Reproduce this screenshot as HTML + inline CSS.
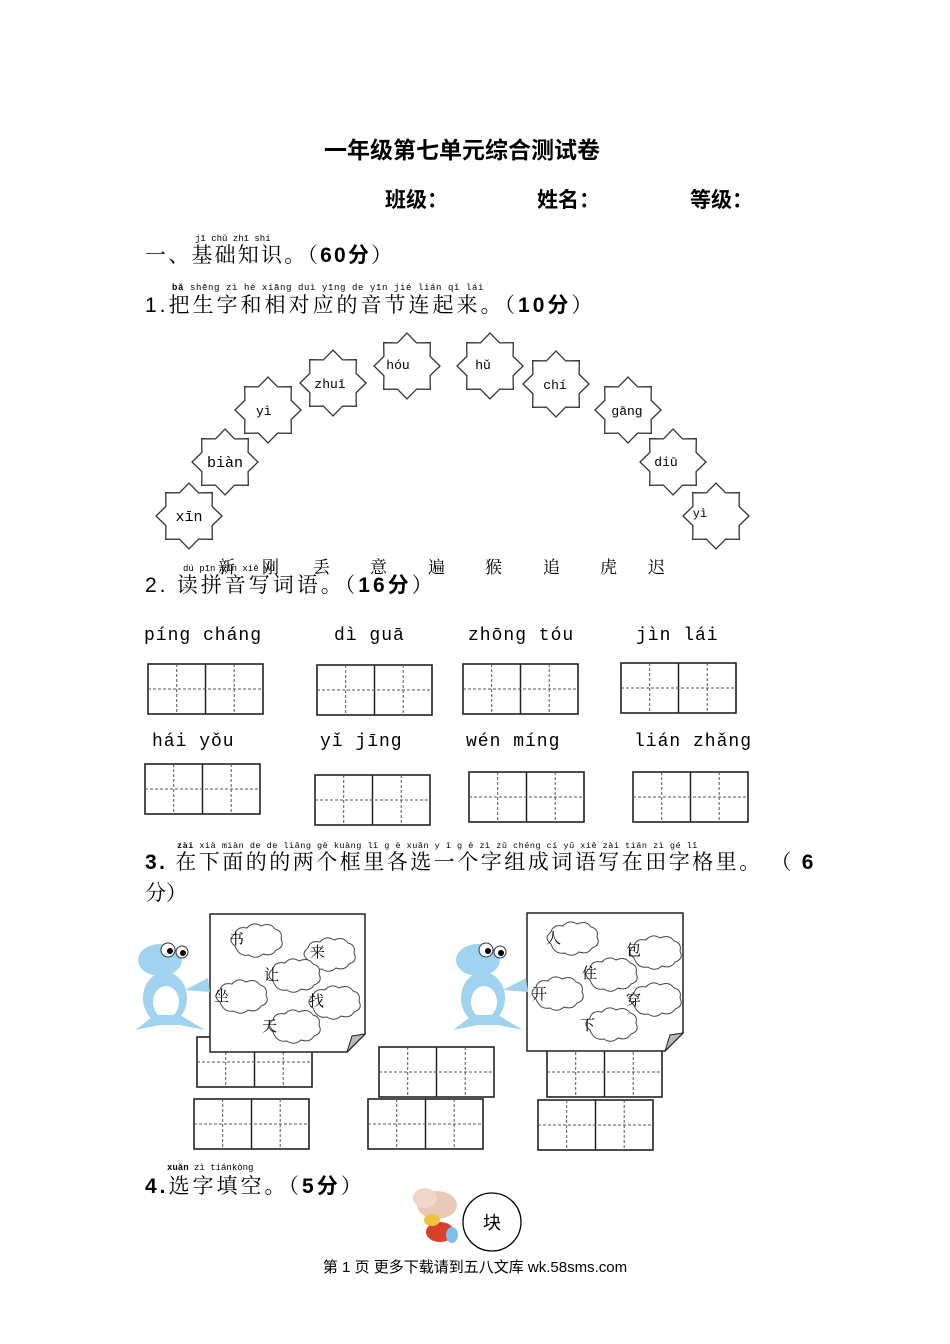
<!DOCTYPE html>
<html><head><meta charset="utf-8"><style>
html,body{margin:0;padding:0;background:#fff;}
svg{display:block;}
text{font-family:"Liberation Serif","Noto Serif CJK SC",serif;fill:#000;}
.h{font-family:"Liberation Sans","Noto Sans CJK SC",sans-serif;}
.py{font-family:"Liberation Mono","DejaVu Sans Mono",monospace;font-size:9px;}
.pw{font-family:"Liberation Mono","DejaVu Sans Mono",monospace;font-size:18px;}
</style></head><body>
<svg width="950" height="1344" viewBox="0 0 950 1344" xmlns="http://www.w3.org/2000/svg">
<defs>
<polygon id="st" fill="#fff" stroke="#333" stroke-width="1.3" points="33,0 23.1,9.6 23.3,23.3 9.6,23.1 0,33 -9.6,23.1 -23.3,23.3 -23.1,9.6 -33,0 -23.1,-9.6 -23.3,-23.3 -9.6,-23.1 0,-33 9.6,-23.1 23.3,-23.3 23.1,-9.6"/>
<g id="tg">
<rect x="0" y="0" width="115" height="50" fill="#fff" stroke="#222" stroke-width="1.6"/>
<line x1="57.5" y1="0" x2="57.5" y2="50" stroke="#222" stroke-width="1.5"/>
<line x1="0" y1="25" x2="115" y2="25" stroke="#555" stroke-dasharray="3,2" stroke-width="1"/>
<line x1="28.7" y1="0" x2="28.7" y2="50" stroke="#555" stroke-dasharray="3,2" stroke-width="1"/>
<line x1="86.2" y1="0" x2="86.2" y2="50" stroke="#555" stroke-dasharray="3,2" stroke-width="1"/>
</g>
<path id="cl" fill="#fff" stroke="#444" stroke-width="1" d="M-22,5 q-8,-6 0,-12 q2,-8 12,-6 q6,-7 14,-2 q9,-4 14,3 q8,2 6,10 q4,8 -5,11 q-4,7 -13,4 q-7,6 -14,1 q-10,2 -14,-9z"/>
<g id="frog">
<ellipse cx="30" cy="40" rx="22" ry="16" fill="#9fd3ef"/>
<ellipse cx="35" cy="78" rx="22" ry="26" fill="#9fd3ef"/>
<ellipse cx="36" cy="82" rx="13" ry="16" fill="#fff"/>
<path d="M5,110 L25,95 L50,95 L75,110 L50,105 L30,105z" fill="#9fd3ef"/>
<path d="M55,70 L78,58 L80,72z" fill="#9fd3ef"/>
<circle cx="38" cy="30" r="7" fill="#fff" stroke="#333"/><circle cx="52" cy="32" r="6" fill="#fff" stroke="#333"/>
<circle cx="40" cy="31" r="3" fill="#000"/><circle cx="53" cy="33" r="3" fill="#000"/>
</g>
</defs>

<text x="462" y="158" text-anchor="middle" font-size="23" font-weight="bold" class="h">一年级第七单元综合测试卷</text>
<text x="385" y="207" font-size="21" font-weight="bold" class="h">班级：</text>
<text x="537" y="207" font-size="21" font-weight="bold" class="h">姓名：</text>
<text x="690" y="207" font-size="21" font-weight="bold" class="h">等级：</text>

<text x="195" y="241" class="py">jī chǔ zhī shí</text>
<text x="145" y="262" font-size="21" letter-spacing="2.2">一、基础知识。（<tspan class="h" font-weight="bold">60分</tspan>）</text>
<text x="172" y="290" class="py" letter-spacing="0.6"><tspan font-weight="bold">bǎ</tspan> shēng zì  hé xiāng duì yīng de  yīn jié lián qǐ  lái</text>
<text x="145" y="312" font-size="21" letter-spacing="3"><tspan class="h">1.</tspan>把生字和相对应的音节连起来。（<tspan class="h" font-weight="bold">10分</tspan>）</text>

<use href="#st" transform="translate(189,516)"/><text x="189" y="521" text-anchor="middle" class="pw" style="font-size:15px">xīn</text>
<use href="#st" transform="translate(225,462)"/><text x="225" y="467" text-anchor="middle" class="pw" style="font-size:15px">biàn</text>
<use href="#st" transform="translate(268,410)"/><text x="256" y="415" class="pw" style="font-size:13px">yì</text>
<use href="#st" transform="translate(333,383)"/><text x="330" y="388" text-anchor="middle" class="pw" style="font-size:13px">zhuī</text>
<use href="#st" transform="translate(407,366)"/><text x="398" y="369" text-anchor="middle" class="pw" style="font-size:13px">hóu</text>
<use href="#st" transform="translate(490,366)"/><text x="483" y="369" text-anchor="middle" class="pw" style="font-size:13px">hǔ</text>
<use href="#st" transform="translate(556,384)"/><text x="555" y="389" text-anchor="middle" class="pw" style="font-size:13px">chí</text>
<use href="#st" transform="translate(628,410)"/><text x="627" y="415" text-anchor="middle" class="pw" style="font-size:13px">gāng</text>
<use href="#st" transform="translate(673,462)"/><text x="666" y="466" text-anchor="middle" class="pw" style="font-size:13px">diū</text>
<use href="#st" transform="translate(716,516)"/><text x="700" y="517" text-anchor="middle" class="pw" style="font-size:12px">yì</text>

<g font-size="17">
<text x="218" y="573">新</text><text x="262" y="573">刚</text><text x="313" y="573">丢</text><text x="370" y="573">意</text><text x="428" y="573">遍</text><text x="485" y="573">猴</text><text x="543" y="573">追</text><text x="600" y="573">虎</text><text x="648" y="573">迟</text>
</g>
<text x="183" y="571" class="py">dú pīn yīn xiě   yǔ</text>
<text x="145" y="592" font-size="21" letter-spacing="3"><tspan class="h">2.</tspan> 读拼音写词语。（<tspan class="h" font-weight="bold">16分</tspan>）</text>

<g>
<text x="144" y="640" class="pw" letter-spacing="1">píng  cháng</text>
<text x="334" y="640" class="pw" letter-spacing="1">dì guā</text>
<text x="468" y="640" class="pw" letter-spacing="1">zhōng  tóu</text>
<text x="636" y="640" class="pw" letter-spacing="1">jìn  lái</text>
<text x="152" y="746" class="pw" letter-spacing="1">hái  yǒu</text>
<text x="320" y="746" class="pw" letter-spacing="1">yǐ jīng</text>
<text x="466" y="746" class="pw" letter-spacing="1">wén míng</text>
<text x="634" y="746" class="pw" letter-spacing="1">lián zhǎng</text>
</g>
<use href="#tg" x="148" y="664"/><use href="#tg" x="317" y="665"/><use href="#tg" x="463" y="664"/><use href="#tg" x="621" y="663"/>
<use href="#tg" x="145" y="764"/><use href="#tg" x="315" y="775"/><use href="#tg" x="469" y="772"/><use href="#tg" x="633" y="772"/>

<text x="177" y="848" class="py" style="font-size:8.5px" letter-spacing="0.5"><tspan font-weight="bold">zài</tspan> xià miàn de  de liǎng gè kuàng lǐ  g è xuǎn y ī g è  zì  zǔ chéng cí  yǔ  xiě zài tián zì  gé  lǐ</text>
<text x="145" y="869" font-size="21" letter-spacing="2.5"><tspan class="h" font-weight="bold">3.</tspan> 在下面的的两个框里各选一个字组成词语写在田字格里。 （ <tspan class="h" font-weight="bold">6</tspan></text>
<text x="145" y="900" font-size="21">分）</text>

<use href="#tg" x="197" y="1037"/><use href="#tg" x="379" y="1047"/><use href="#tg" x="547" y="1047"/>
<use href="#tg" x="194" y="1099"/><use href="#tg" x="368" y="1099"/><use href="#tg" x="538" y="1100"/>

<path d="M210,914 L365,914 L365,1034 L347,1052 L210,1052z" fill="#fff" stroke="#222" stroke-width="1.5"/>
<path d="M347,1052 L352,1036 L365,1034z" fill="#bbb" stroke="#222"/>
<path d="M527,913 L683,913 L683,1033 L665,1051 L527,1051z" fill="#fff" stroke="#222" stroke-width="1.5"/>
<path d="M665,1051 L670,1035 L683,1033z" fill="#bbb" stroke="#222"/>
<use href="#cl" transform="translate(257,941)"/><use href="#cl" transform="translate(330,955)"/><use href="#cl" transform="translate(295,976)"/>
<use href="#cl" transform="translate(242,997)"/><use href="#cl" transform="translate(335,1003)"/><use href="#cl" transform="translate(295,1027)"/>
<g font-size="15">
<text x="229" y="944">书</text><text x="310" y="957">来</text><text x="264" y="980">让</text><text x="214" y="1001">坐</text><text x="309" y="1006">找</text><text x="262" y="1031">天</text>
</g>
<use href="#cl" transform="translate(573,939)"/><use href="#cl" transform="translate(656,953)"/><use href="#cl" transform="translate(612,975)"/>
<use href="#cl" transform="translate(558,994)"/><use href="#cl" transform="translate(656,1000)"/><use href="#cl" transform="translate(612,1025)"/>
<g font-size="15">
<text x="546" y="943">人</text><text x="626" y="955">包</text><text x="582" y="978">住</text><text x="532" y="999">开</text><text x="626" y="1005">穿</text><text x="580" y="1030">下</text>
</g>
<use href="#frog" x="130" y="920"/>
<use href="#frog" x="448" y="920"/>

<text x="167" y="1170" class="py"><tspan font-weight="bold">xuǎn</tspan> zì tiánkòng</text>
<text x="145" y="1193" font-size="21" letter-spacing="3"><tspan class="h" font-weight="bold">4.</tspan>选字填空。（<tspan class="h" font-weight="bold">5分</tspan>）</text>

<ellipse cx="437" cy="1205" rx="20" ry="14" fill="#e8c9b8"/>
<ellipse cx="425" cy="1198" rx="12" ry="10" fill="#f0d6c8"/>
<ellipse cx="440" cy="1232" rx="14" ry="10" fill="#d8402a"/>
<ellipse cx="432" cy="1220" rx="8" ry="6" fill="#f2c33a"/>
<ellipse cx="452" cy="1235" rx="6" ry="8" fill="#7cc0e8"/>
<circle cx="492" cy="1222" r="29" fill="#fff" stroke="#000" stroke-width="1.3"/>
<text x="492" y="1229" font-size="18" text-anchor="middle" class="h">块</text>

<text x="475" y="1272" font-size="15" text-anchor="middle" class="h">第 1 页 更多下载请到五八文库 wk.58sms.com</text>
</svg>
</body></html>
